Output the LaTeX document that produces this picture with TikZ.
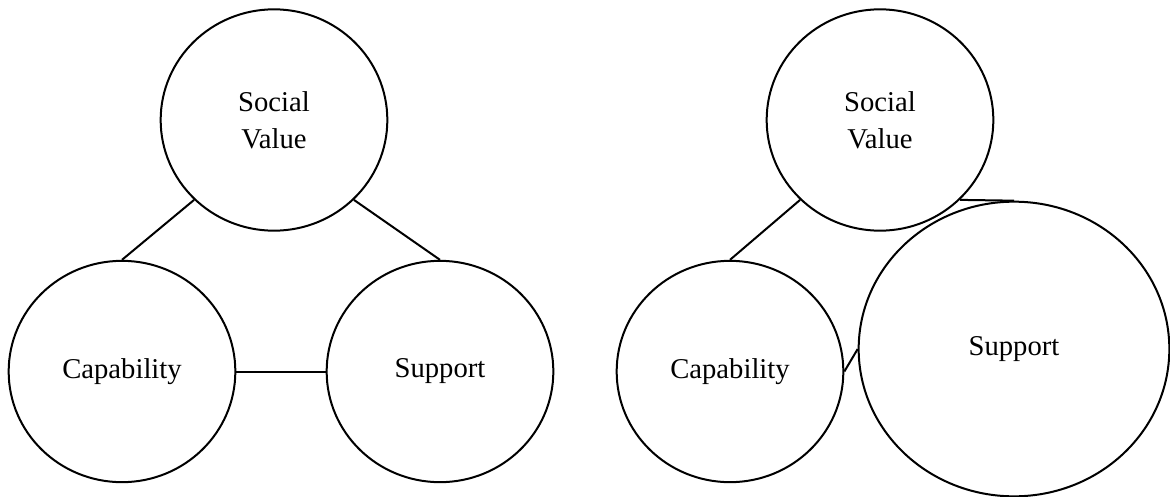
\documentclass[tikz,border=0pt]{standalone}
\usepackage{fontspec}
\setmainfont{Liberation Serif}
\usetikzlibrary{shapes.geometric}
\begin{document}
\begin{tikzpicture}[x=0.75pt,y=-0.75pt,
  bubble/.style={draw,ellipse,line width=1.5pt,inner sep=0pt,
    minimum width=170pt,minimum height=166pt,
    font=\fontsize{21.5}{28}\selectfont,align=center},
  bigbubble/.style={bubble,minimum width=233pt,minimum height=221pt},
  link/.style={line width=1.5pt}]
\useasboundingbox (0,0) rectangle (1170,496);
% left diagram
\node[bubble] (sv1) at (274,120) {Social\\Value};
\node[bubble] (cap1) at (122,371.5) {Capability};
\node[bubble] (sup1) at (440,371.5) {Support};
\draw[link] (sv1.225) -- (cap1.north);
\draw[link] (sv1.315) -- (sup1.north);
\draw[link] (cap1.east) -- (sup1.west);
% right diagram
\node[bubble] (sv2) at (880,120) {Social\\Value};
\node[bubble] (cap2) at (730,371.5) {Capability};
\node[bigbubble] (sup2) at (1014,349) {Support};
\draw[link] (sv2.225) -- (cap2.north);
\draw[link] (sv2.315) -- (sup2.north);
\draw[link] (cap2.east) -- (sup2.west);
\end{tikzpicture}
\end{document}
